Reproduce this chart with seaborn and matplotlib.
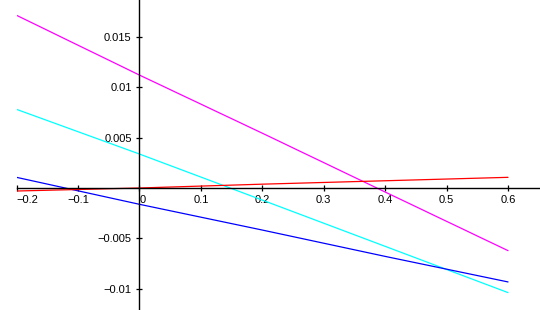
import matplotlib
matplotlib.use("Agg")
import matplotlib.pyplot as plt
import seaborn as sns
import pandas as pd

x_vals = [-0.2, 0.0, 0.2, 0.4, 0.6]
magenta_vals = [0.01717, 0.01123, 0.00545, -0.00040, -0.00623]
cyan_vals = [0.00782, 0.00338, -0.00120, -0.00580, -0.01040]
blue_vals = [0.00106, -0.00162, -0.00418, -0.00680, -0.00934]
red_vals = [-0.00030, 0.00000, 0.00038, 0.00072, 0.00106]

series_names = ["magenta", "cyan", "blue", "red"]
series_colors = {"magenta": "#ff00ff", "cyan": "#00ffff", "blue": "#0000ff", "red": "#ff0000"}

x_ticks = [-0.2, -0.1, 0, 0.1, 0.2, 0.3, 0.4, 0.5, 0.6]
x_labels = ["\u22120.2", "\u22120.1", "0", "0.1", "0.2", "0.3", "0.4", "0.5", "0.6"]
y_ticks = [-0.01, -0.005, 0.005, 0.01, 0.015]
y_labels = ["\u22120.01", "\u22120.005", "0.005", "0.01", "0.015"]

rows = []
for name, vals in zip(series_names, [magenta_vals, cyan_vals, blue_vals, red_vals]):
    for xv, yv in zip(x_vals, vals):
        rows.append({"x": xv, "y": yv, "series": name})
df = pd.DataFrame(rows)

sns.set_theme(style="white")
plt.rcParams["font.family"] = ["Liberation Sans", "DejaVu Sans"]

fig = plt.figure(figsize=(5.4, 3.1), dpi=100)
ax = fig.add_axes([16.5 / 540, 1 / 310, 1 - 16.5 / 540, 309 / 310])
ax.set_facecolor("white")

sns.lineplot(data=df, x="x", y="y", hue="series", palette=series_colors,
             hue_order=series_names, ax=ax, legend=False, linewidth=0.9,
             estimator=None, sort=False)

ax.set_xlim(-0.2, 0.652)
ax.set_ylim(-0.01203, 0.01869)

for s in ["top", "right"]:
    ax.spines[s].set_visible(False)
ax.spines["left"].set_position(("data", 0))
ax.spines["bottom"].set_position(("data", 0))
for s in ["left", "bottom"]:
    ax.spines[s].set_color("black")
    ax.spines[s].set_linewidth(1.0)

ax.set_xticks(x_ticks)
ax.set_xticklabels(x_labels)
ax.set_yticks(y_ticks)
ax.set_yticklabels(y_labels)
ax.tick_params(axis="both", direction="inout", length=5, width=0.9, color="black",
               labelsize=8, labelcolor="black")
ax.tick_params(axis="x", pad=2.5)
ax.tick_params(axis="y", pad=3)
ax.xaxis.set_ticks_position("bottom")
ax.yaxis.set_ticks_position("left")

xt = ax.get_xticklabels()
xt[0].set_horizontalalignment("left")
xt[2].set_horizontalalignment("left")

ax.set_xlabel("")
ax.set_ylabel("")
ax.grid(False)

fig.savefig("out.png", dpi=100, facecolor="white")
